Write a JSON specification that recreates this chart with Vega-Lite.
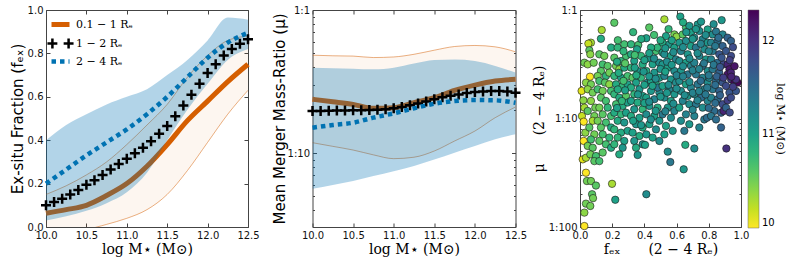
{
  "$schema": "https://vega.github.io/schema/vega-lite/v6.json",
  "padding": {"left": 9, "top": 4, "right": 0, "bottom": 0},
  "bounds": "flush",
  "spacing": 64.5,
  "datasets": {
    "l1": [
      {"x": 10.0, "s": "0.1 − 1 Rₑ", "y": 0.063}, {"x": 10.25, "s": "0.1 − 1 Rₑ", "y": 0.08}, {"x": 10.5, "s": "0.1 − 1 Rₑ", "y": 0.10}, {"x": 10.75, "s": "0.1 − 1 Rₑ", "y": 0.145}, {"x": 11.0, "s": "0.1 − 1 Rₑ", "y": 0.20}, {"x": 11.25, "s": "0.1 − 1 Rₑ", "y": 0.28}, {"x": 11.5, "s": "0.1 − 1 Rₑ", "y": 0.38}, {"x": 11.75, "s": "0.1 − 1 Rₑ", "y": 0.49}, {"x": 12.0, "s": "0.1 − 1 Rₑ", "y": 0.58}, {"x": 12.25, "s": "0.1 − 1 Rₑ", "y": 0.67}, {"x": 12.5, "s": "0.1 − 1 Rₑ", "y": 0.75},
      {"x": 10.0, "s": "2 − 4 Rₑ", "y": 0.20}, {"x": 10.25, "s": "2 − 4 Rₑ", "y": 0.265}, {"x": 10.5, "s": "2 − 4 Rₑ", "y": 0.33}, {"x": 10.75, "s": "2 − 4 Rₑ", "y": 0.39}, {"x": 11.0, "s": "2 − 4 Rₑ", "y": 0.45}, {"x": 11.25, "s": "2 − 4 Rₑ", "y": 0.52}, {"x": 11.5, "s": "2 − 4 Rₑ", "y": 0.60}, {"x": 11.75, "s": "2 − 4 Rₑ", "y": 0.69}, {"x": 12.0, "s": "2 − 4 Rₑ", "y": 0.78}, {"x": 12.25, "s": "2 − 4 Rₑ", "y": 0.85}, {"x": 12.5, "s": "2 − 4 Rₑ", "y": 0.895}
    ],
    "k1": [
      {"x": 10.0, "y": 0.10}, {"x": 10.1, "y": 0.115}, {"x": 10.2, "y": 0.13}, {"x": 10.3, "y": 0.15}, {"x": 10.4, "y": 0.17}, {"x": 10.5, "y": 0.195}, {"x": 10.6, "y": 0.215}, {"x": 10.7, "y": 0.24}, {"x": 10.8, "y": 0.265}, {"x": 10.9, "y": 0.29}, {"x": 11.0, "y": 0.315}, {"x": 11.1, "y": 0.34}, {"x": 11.2, "y": 0.365}, {"x": 11.3, "y": 0.395}, {"x": 11.4, "y": 0.43}, {"x": 11.5, "y": 0.465}, {"x": 11.6, "y": 0.51}, {"x": 11.7, "y": 0.56}, {"x": 11.8, "y": 0.61}, {"x": 11.9, "y": 0.66}, {"x": 12.0, "y": 0.71}, {"x": 12.1, "y": 0.75}, {"x": 12.2, "y": 0.79}, {"x": 12.3, "y": 0.82}, {"x": 12.4, "y": 0.845}, {"x": 12.5, "y": 0.865}
    ],
    "b1": [
      {"x": 10.0, "olo": -0.10, "ohi": 0.15, "blo": 0.03, "bhi": 0.40},
      {"x": 10.25, "olo": -0.06, "ohi": 0.19, "blo": 0.05, "bhi": 0.47},
      {"x": 10.5, "olo": -0.015, "ohi": 0.24, "blo": 0.075, "bhi": 0.52},
      {"x": 10.75, "olo": 0.012, "ohi": 0.30, "blo": 0.11, "bhi": 0.565},
      {"x": 11.0, "olo": 0.04, "ohi": 0.38, "blo": 0.16, "bhi": 0.60},
      {"x": 11.25, "olo": 0.08, "ohi": 0.47, "blo": 0.25, "bhi": 0.635},
      {"x": 11.5, "olo": 0.15, "ohi": 0.565, "blo": 0.40, "bhi": 0.70},
      {"x": 11.75, "olo": 0.26, "ohi": 0.69, "blo": 0.54, "bhi": 0.77},
      {"x": 12.0, "olo": 0.39, "ohi": 0.79, "blo": 0.66, "bhi": 0.86},
      {"x": 12.25, "olo": 0.52, "ohi": 0.86, "blo": 0.77, "bhi": 0.965},
      {"x": 12.5, "olo": 0.63, "ohi": 0.88, "blo": 0.82, "bhi": 0.955}
    ],
    "l2": [
      {"x": 10.0, "s": "o", "n": 4.21}, {"x": 10.25, "s": "o", "n": 4.38}, {"x": 10.5, "s": "o", "n": 4.57}, {"x": 10.75, "s": "o", "n": 4.87}, {"x": 11.0, "s": "o", "n": 4.82}, {"x": 11.25, "s": "o", "n": 4.45}, {"x": 11.5, "s": "o", "n": 4.10}, {"x": 11.75, "s": "o", "n": 3.65}, {"x": 12.0, "s": "o", "n": 3.35}, {"x": 12.25, "s": "o", "n": 3.14}, {"x": 12.5, "s": "o", "n": 3.05},
      {"x": 10.0, "s": "b", "n": 6.65}, {"x": 10.25, "s": "b", "n": 6.37}, {"x": 10.5, "s": "b", "n": 6.14}, {"x": 10.75, "s": "b", "n": 5.66}, {"x": 11.0, "s": "b", "n": 5.28}, {"x": 11.25, "s": "b", "n": 4.87}, {"x": 11.5, "s": "b", "n": 4.52}, {"x": 11.75, "s": "b", "n": 4.33}, {"x": 12.0, "s": "b", "n": 4.26}, {"x": 12.25, "s": "b", "n": 4.28}, {"x": 12.5, "s": "b", "n": 4.45}
    ],
    "k2": [
      {"x": 10.0, "n": 5.09}, {"x": 10.1, "n": 5.08}, {"x": 10.2, "n": 5.06}, {"x": 10.3, "n": 5.05}, {"x": 10.4, "n": 5.04}, {"x": 10.5, "n": 5.03}, {"x": 10.6, "n": 5.02}, {"x": 10.7, "n": 5.01}, {"x": 10.8, "n": 4.99}, {"x": 10.9, "n": 4.94}, {"x": 11.0, "n": 4.87}, {"x": 11.1, "n": 4.76}, {"x": 11.2, "n": 4.63}, {"x": 11.3, "n": 4.50}, {"x": 11.4, "n": 4.36}, {"x": 11.5, "n": 4.21}, {"x": 11.6, "n": 4.08}, {"x": 11.7, "n": 3.98}, {"x": 11.8, "n": 3.89}, {"x": 11.9, "n": 3.81}, {"x": 12.0, "n": 3.75}, {"x": 12.1, "n": 3.71}, {"x": 12.2, "n": 3.69}, {"x": 12.3, "n": 3.69}, {"x": 12.4, "n": 3.72}, {"x": 12.5, "n": 3.79}
    ],
    "b2": [
      {"x": 10.0, "olo": 8.47, "ohi": 2.07, "blo": 17.8, "bhi": 2.53},
      {"x": 10.25, "olo": 8.98, "ohi": 2.09, "blo": 16.7, "bhi": 2.55},
      {"x": 10.5, "olo": 9.53, "ohi": 2.10, "blo": 15.7, "bhi": 2.57},
      {"x": 10.75, "olo": 10.3, "ohi": 2.15, "blo": 14.5, "bhi": 2.60},
      {"x": 11.0, "olo": 10.95, "ohi": 2.13, "blo": 13.4, "bhi": 2.53},
      {"x": 11.25, "olo": 10.7, "ohi": 2.04, "blo": 12.3, "bhi": 2.37},
      {"x": 11.5, "olo": 9.68, "ohi": 1.91, "blo": 11.1, "bhi": 2.24},
      {"x": 11.75, "olo": 8.24, "ohi": 1.80, "blo": 9.95, "bhi": 2.22},
      {"x": 12.0, "olo": 7.02, "ohi": 1.77, "blo": 8.93, "bhi": 2.27},
      {"x": 12.25, "olo": 5.66, "ohi": 1.81, "blo": 8.02, "bhi": 2.46},
      {"x": 12.5, "olo": 4.77, "ohi": 1.96, "blo": 7.40, "bhi": 2.74}
    ],
    "sc": [
      {"f":0.010,"n":5.57,"c":10.1},{"f":0.021,"n":6.80,"c":10.4},{"f":0.027,"n":7.94,"c":10.3},{"f":0.012,"n":9.49,"c":10.2},{"f":0.023,"n":10.7,"c":10.0},{"f":0.033,"n":13.5,"c":10.4},{"f":0.023,"n":16.1,"c":10.0},{"f":0.048,"n":17.9,"c":10.5},{"f":0.017,"n":23.8,"c":10.1},{"f":0.037,"n":23.0,"c":10.3},{"f":0.037,"n":31.6,"c":10.0},{"f":0.043,"n":37.7,"c":10.5},{"f":0.068,"n":37.7,"c":10.5},{"f":0.099,"n":41.5,"c":10.6},{"f":0.075,"n":49.9,"c":10.6},{"f":0.081,"n":54.2,"c":10.5},{"f":0.037,"n":60.9,"c":10.5},{"f":0.027,"n":73.7,"c":10.4},{"f":0.064,"n":64.0,"c":10.5},{"f":0.027,"n":98,"c":10.0},{"f":0.068,"n":2.0,"c":10.3},{"f":0.052,"n":2.04,"c":10.2},{"f":0.058,"n":2.35,"c":10.6},{"f":0.064,"n":2.56,"c":10.4},{"f":0.027,"n":3.06,"c":10.5},{"f":0.048,"n":3.17,"c":10.4},{"f":0.085,"n":3.06,"c":10.5},{"f":0.062,"n":4.12,"c":10.0},{"f":0.037,"n":4.67,"c":10.4},{"f":0.068,"n":4.84,"c":10.5},{"f":0.048,"n":5.38,"c":10.4},{"f":0.079,"n":5.77,"c":10.5},{"f":0.068,"n":6.89,"c":10.4},{"f":0.095,"n":7.94,"c":10.5},{"f":0.048,"n":8.53,"c":10.6},{"f":0.089,"n":9.49,"c":10.5},{"f":0.079,"n":10.5,"c":10.3},{"f":0.058,"n":12.1,"c":10.6},{"f":0.089,"n":14.0,"c":10.5},{"f":0.068,"n":15.6,"c":10.7},{"f":0.079,"n":18.6,"c":10.6},{"f":0.064,"n":21.4,"c":10.5},{"f":0.099,"n":22.2,"c":10.7},{"f":0.089,"n":24.7,"c":10.6},{"f":0.120,"n":24.7,"c":10.7},
      {"f":0.135,"n":1.53,"c":10.3},{"f":0.130,"n":1.84,"c":10.9},{"f":0.120,"n":2.56,"c":10.6},{"f":0.151,"n":2.65,"c":10.5},{"f":0.141,"n":3.17,"c":10.7},{"f":0.172,"n":3.28,"c":10.6},{"f":0.130,"n":3.65,"c":10.6},{"f":0.110,"n":4.06,"c":10.5},{"f":0.161,"n":4.06,"c":10.8},{"f":0.182,"n":3.78,"c":10.5},{"f":0.120,"n":4.51,"c":10.7},{"f":0.155,"n":4.67,"c":10.6},{"f":0.182,"n":4.84,"c":10.4},{"f":0.110,"n":5.38,"c":10.7},{"f":0.141,"n":5.57,"c":10.5},{"f":0.193,"n":5.57,"c":10.7},{"f":0.130,"n":6.42,"c":10.6},{"f":0.161,"n":6.89,"c":10.7},{"f":0.120,"n":7.94,"c":10.5},{"f":0.172,"n":7.94,"c":10.8},{"f":0.141,"n":9.16,"c":10.6},{"f":0.193,"n":9.49,"c":10.7},{"f":0.110,"n":10.5,"c":10.5},{"f":0.161,"n":10.9,"c":10.7},{"f":0.130,"n":12.1,"c":10.6},{"f":0.193,"n":12.1,"c":10.9},{"f":0.141,"n":14.0,"c":10.7},{"f":0.182,"n":15.0,"c":10.8},{"f":0.120,"n":16.1,"c":10.6},{"f":0.161,"n":17.3,"c":10.7},{"f":0.193,"n":18.6,"c":10.9},{"f":0.141,"n":20.6,"c":10.6},{"f":0.199,"n":40.0,"c":10.3},{"f":0.219,"n":56.1,"c":11.0},
      {"f":0.213,"n":1.31,"c":10.6},{"f":0.193,"n":2.22,"c":10.9},{"f":0.234,"n":2.22,"c":10.8},{"f":0.275,"n":2.07,"c":10.7},{"f":0.213,"n":2.75,"c":10.6},{"f":0.255,"n":2.95,"c":10.8},{"f":0.286,"n":2.65,"c":10.7},{"f":0.224,"n":3.28,"c":10.5},{"f":0.244,"n":3.52,"c":10.4},{"f":0.275,"n":3.40,"c":10.9},{"f":0.213,"n":4.06,"c":10.8},{"f":0.255,"n":4.21,"c":11.0},{"f":0.296,"n":4.06,"c":10.7},{"f":0.224,"n":4.84,"c":10.9},{"f":0.265,"n":5.01,"c":10.8},{"f":0.296,"n":4.84,"c":11.0},{"f":0.213,"n":5.98,"c":10.8},{"f":0.244,"n":6.42,"c":10.9},{"f":0.286,"n":6.20,"c":10.6},{"f":0.224,"n":7.39,"c":10.7},{"f":0.265,"n":7.66,"c":10.9},{"f":0.296,"n":7.13,"c":11.0},{"f":0.213,"n":8.84,"c":10.9},{"f":0.255,"n":9.16,"c":10.8},{"f":0.286,"n":8.84,"c":11.0},{"f":0.234,"n":10.5,"c":10.9},{"f":0.275,"n":10.9,"c":11.1},{"f":0.213,"n":12.6,"c":10.8},{"f":0.255,"n":13.5,"c":10.9},{"f":0.296,"n":13.0,"c":11.0},{"f":0.234,"n":15.0,"c":10.8},{"f":0.275,"n":16.1,"c":11.0},{"f":0.213,"n":17.3,"c":10.8},{"f":0.265,"n":18.6,"c":11.1},{"f":0.244,"n":21.4,"c":10.9},
      {"f":0.317,"n":2.07,"c":10.8},{"f":0.362,"n":2.10,"c":10.7},{"f":0.354,"n":2.30,"c":11.0},{"f":0.317,"n":2.56,"c":10.9},{"f":0.379,"n":2.65,"c":10.8},{"f":0.337,"n":2.95,"c":11.0},{"f":0.389,"n":3.17,"c":10.9},{"f":0.317,"n":3.40,"c":10.8},{"f":0.358,"n":3.65,"c":11.1},{"f":0.327,"n":4.21,"c":10.6},{"f":0.379,"n":4.21,"c":10.8},{"f":0.348,"n":4.67,"c":11.0},{"f":0.317,"n":5.19,"c":10.9},{"f":0.369,"n":5.38,"c":11.1},{"f":0.337,"n":5.98,"c":10.8},{"f":0.389,"n":6.20,"c":11.0},{"f":0.317,"n":6.89,"c":11.0},{"f":0.358,"n":7.13,"c":10.9},{"f":0.337,"n":8.23,"c":11.1},{"f":0.389,"n":8.23,"c":10.8},{"f":0.317,"n":9.49,"c":10.9},{"f":0.369,"n":9.84,"c":11.0},{"f":0.348,"n":11.3,"c":11.1},{"f":0.389,"n":12.1,"c":10.9},{"f":0.327,"n":13.5,"c":11.0},{"f":0.369,"n":14.5,"c":10.9},{"f":0.337,"n":16.1,"c":11.1},{"f":0.389,"n":17.3,"c":11.2},{"f":0.348,"n":18.6,"c":10.9},{"f":0.358,"n":21.7,"c":11.1},{"f":0.404,"n":17.5,"c":11.0},
      {"f":0.412,"n":1.82,"c":11.0},{"f":0.420,"n":2.79,"c":11.1},{"f":0.472,"n":2.39,"c":10.7},{"f":0.482,"n":2.22,"c":10.8},{"f":0.441,"n":2.22,"c":10.9},{"f":0.513,"n":2.47,"c":11.0},{"f":0.451,"n":3.17,"c":11.0},{"f":0.493,"n":3.06,"c":11.2},{"f":0.412,"n":3.65,"c":10.9},{"f":0.462,"n":3.78,"c":11.1},{"f":0.493,"n":4.21,"c":11.0},{"f":0.420,"n":4.67,"c":11.2},{"f":0.472,"n":4.84,"c":10.9},{"f":0.441,"n":5.57,"c":11.1},{"f":0.493,"n":5.77,"c":11.2},{"f":0.412,"n":6.42,"c":11.0},{"f":0.462,"n":6.65,"c":11.3},{"f":0.431,"n":7.66,"c":11.1},{"f":0.482,"n":7.94,"c":10.9},{"f":0.412,"n":9.16,"c":11.2},{"f":0.462,"n":9.49,"c":11.0},{"f":0.493,"n":10.5,"c":11.1},{"f":0.431,"n":11.3,"c":11.0},{"f":0.472,"n":12.6,"c":11.2},{"f":0.412,"n":14.0,"c":11.1},{"f":0.451,"n":15.0,"c":11.0},{"f":0.493,"n":16.1,"c":11.2},{"f":0.412,"n":49.9,"c":11.2},{"f":0.441,"n":4.51,"c":11.0},{"f":0.482,"n":5.19,"c":11.4},
      {"f":0.524,"n":1.22,"c":10.3},{"f":0.534,"n":1.74,"c":11.0},{"f":0.586,"n":1.68,"c":10.5},{"f":0.600,"n":1.76,"c":10.4},{"f":0.513,"n":2.0,"c":10.9},{"f":0.555,"n":2.07,"c":11.1},{"f":0.586,"n":2.22,"c":11.0},{"f":0.524,"n":2.56,"c":11.2},{"f":0.565,"n":2.65,"c":11.0},{"f":0.596,"n":2.85,"c":11.3},{"f":0.513,"n":3.17,"c":11.1},{"f":0.545,"n":3.40,"c":11.0},{"f":0.586,"n":3.65,"c":11.2},{"f":0.524,"n":4.06,"c":11.3},{"f":0.565,"n":4.36,"c":11.1},{"f":0.596,"n":4.67,"c":11.2},{"f":0.513,"n":5.01,"c":11.0},{"f":0.555,"n":5.38,"c":11.3},{"f":0.586,"n":5.98,"c":11.1},{"f":0.524,"n":6.42,"c":11.2},{"f":0.565,"n":6.89,"c":11.0},{"f":0.545,"n":7.94,"c":11.1},{"f":0.586,"n":8.53,"c":11.3},{"f":0.513,"n":9.16,"c":11.4},{"f":0.565,"n":9.84,"c":11.2},{"f":0.534,"n":11.7,"c":11.0},{"f":0.576,"n":13.0,"c":11.1},{"f":0.545,"n":20.2,"c":11.2},{"f":0.561,"n":25.2,"c":11.4},{"f":0.524,"n":14.0,"c":11.0},
      {"f":0.623,"n":1.15,"c":11.0},{"f":0.658,"n":1.45,"c":10.7},{"f":0.638,"n":1.68,"c":10.6},{"f":0.679,"n":1.40,"c":11.1},{"f":0.689,"n":1.62,"c":11.0},{"f":0.617,"n":2.0,"c":11.1},{"f":0.658,"n":1.93,"c":11.2},{"f":0.689,"n":2.15,"c":11.0},{"f":0.627,"n":2.39,"c":11.3},{"f":0.669,"n":2.56,"c":11.1},{"f":0.617,"n":2.95,"c":11.2},{"f":0.658,"n":3.06,"c":11.0},{"f":0.689,"n":3.28,"c":11.3},{"f":0.627,"n":3.65,"c":11.1},{"f":0.669,"n":3.92,"c":11.4},{"f":0.617,"n":4.51,"c":11.2},{"f":0.658,"n":4.84,"c":11.0},{"f":0.689,"n":5.19,"c":11.3},{"f":0.627,"n":5.57,"c":11.2},{"f":0.669,"n":6.20,"c":11.1},{"f":0.638,"n":6.89,"c":11.3},{"f":0.679,"n":7.39,"c":11.2},{"f":0.617,"n":7.94,"c":11.0},{"f":0.658,"n":9.16,"c":11.3},{"f":0.627,"n":10.5,"c":11.2},{"f":0.679,"n":11.3,"c":11.1},{"f":0.648,"n":13.0,"c":11.4},{"f":0.654,"n":17.5,"c":10.9},{"f":0.644,"n":29.4,"c":11.1},
      {"f":0.731,"n":1.36,"c":11.1},{"f":0.752,"n":1.28,"c":11.1},{"f":0.741,"n":1.56,"c":11.2},{"f":0.793,"n":1.51,"c":11.0},{"f":0.710,"n":1.80,"c":11.2},{"f":0.762,"n":1.86,"c":11.3},{"f":0.793,"n":2.0,"c":11.1},{"f":0.720,"n":2.22,"c":11.4},{"f":0.772,"n":2.30,"c":11.2},{"f":0.741,"n":2.65,"c":11.3},{"f":0.783,"n":2.85,"c":11.1},{"f":0.710,"n":3.06,"c":11.3},{"f":0.762,"n":3.28,"c":11.5},{"f":0.793,"n":3.65,"c":11.2},{"f":0.720,"n":3.92,"c":11.4},{"f":0.762,"n":4.21,"c":11.3},{"f":0.793,"n":4.67,"c":11.2},{"f":0.731,"n":4.84,"c":11.4},{"f":0.772,"n":5.38,"c":11.3},{"f":0.710,"n":5.98,"c":11.2},{"f":0.752,"n":6.42,"c":11.5},{"f":0.793,"n":6.89,"c":11.3},{"f":0.720,"n":7.39,"c":11.4},{"f":0.762,"n":7.94,"c":11.2},{"f":0.710,"n":9.49,"c":11.3},{"f":0.772,"n":10.2,"c":11.4},{"f":0.741,"n":12.1,"c":11.3},{"f":0.710,"n":18.9,"c":11.2},{"f":0.789,"n":9.84,"c":11.5},
      {"f":0.824,"n":1.68,"c":11.2},{"f":0.845,"n":1.58,"c":11.4},{"f":0.880,"n":1.24,"c":11.1},{"f":0.886,"n":1.68,"c":11.3},{"f":0.814,"n":2.0,"c":11.3},{"f":0.855,"n":1.93,"c":11.5},{"f":0.886,"n":2.15,"c":11.6},{"f":0.824,"n":2.39,"c":11.4},{"f":0.865,"n":2.56,"c":11.7},{"f":0.814,"n":2.85,"c":11.3},{"f":0.855,"n":3.06,"c":11.5},{"f":0.892,"n":3.17,"c":11.8},{"f":0.824,"n":3.52,"c":11.4},{"f":0.865,"n":3.78,"c":11.6},{"f":0.803,"n":4.21,"c":11.3},{"f":0.845,"n":4.51,"c":11.5},{"f":0.886,"n":4.67,"c":11.7},{"f":0.824,"n":5.38,"c":11.4},{"f":0.865,"n":5.57,"c":11.6},{"f":0.814,"n":6.42,"c":11.3},{"f":0.855,"n":6.65,"c":11.5},{"f":0.886,"n":7.39,"c":11.8},{"f":0.834,"n":8.53,"c":11.5},{"f":0.876,"n":8.84,"c":11.6},{"f":0.814,"n":9.49,"c":11.4},{"f":0.845,"n":10.2,"c":11.5},{"f":0.876,"n":12.1,"c":11.6},{"f":0.892,"n":8.53,"c":12.1},
      {"f":0.917,"n":1.80,"c":11.6},{"f":0.938,"n":1.93,"c":11.6},{"f":0.907,"n":2.39,"c":11.7},{"f":0.938,"n":2.65,"c":11.8},{"f":0.917,"n":3.17,"c":12.1},{"f":0.928,"n":3.52,"c":12.2},{"f":0.917,"n":3.92,"c":12.2},{"f":0.938,"n":3.78,"c":12.1},{"f":0.938,"n":4.36,"c":11.9},{"f":0.959,"n":4.67,"c":12.3},{"f":0.979,"n":4.67,"c":12.3},{"f":0.969,"n":4.36,"c":12.0},{"f":0.907,"n":5.01,"c":11.8},{"f":0.928,"n":5.77,"c":11.7},{"f":0.917,"n":6.80,"c":11.9},{"f":0.938,"n":6.42,"c":11.8},{"f":0.907,"n":7.94,"c":11.6},{"f":0.909,"n":18.9,"c":12.0},{"f":0.969,"n":5.57,"c":11.7},{"f":0.940,"n":4.12,"c":12.1},
      {"f":0.235,"n":1.9,"c":10.7},{"f":0.27,"n":2.4,"c":10.8},{"f":0.23,"n":3.0,"c":10.9},{"f":0.28,"n":3.1,"c":10.6},{"f":0.24,"n":3.8,"c":10.9},{"f":0.27,"n":4.5,"c":10.7},{"f":0.235,"n":5.4,"c":10.9},{"f":0.28,"n":5.5,"c":11.0},{"f":0.26,"n":6.9,"c":10.8},{"f":0.23,"n":8.0,"c":11.0},
      {"f":0.33,"n":1.6,"c":10.8},{"f":0.38,"n":1.85,"c":10.9},{"f":0.34,"n":2.6,"c":10.7},{"f":0.40,"n":2.9,"c":11.0},{"f":0.34,"n":3.4,"c":11.0},{"f":0.395,"n":3.7,"c":11.1},{"f":0.35,"n":4.0,"c":10.9},{"f":0.40,"n":4.9,"c":11.0},{"f":0.36,"n":6.0,"c":11.1},{"f":0.40,"n":7.2,"c":11.0},{"f":0.33,"n":10.5,"c":11.0},{"f":0.38,"n":11.5,"c":11.1},
      {"f":0.43,"n":1.45,"c":10.6},{"f":0.46,"n":1.7,"c":10.7},{"f":0.50,"n":1.9,"c":10.9},{"f":0.43,"n":2.5,"c":11.0},{"f":0.46,"n":2.8,"c":11.2},{"f":0.50,"n":3.5,"c":11.1},{"f":0.43,"n":4.1,"c":11.1},{"f":0.47,"n":4.3,"c":11.2},{"f":0.45,"n":5.0,"c":11.0},{"f":0.50,"n":6.3,"c":11.1},{"f":0.43,"n":7.0,"c":11.2},{"f":0.47,"n":8.5,"c":11.1},{"f":0.44,"n":10.2,"c":11.2},
      {"f":0.55,"n":1.5,"c":10.8},{"f":0.57,"n":1.9,"c":11.0},{"f":0.53,"n":2.25,"c":11.1},{"f":0.58,"n":2.45,"c":11.2},{"f":0.54,"n":3.0,"c":11.2},{"f":0.57,"n":3.2,"c":11.1},{"f":0.53,"n":3.7,"c":11.0},{"f":0.60,"n":4.0,"c":11.3},{"f":0.55,"n":4.9,"c":11.2},{"f":0.60,"n":5.3,"c":11.2},{"f":0.54,"n":5.8,"c":11.1},{"f":0.58,"n":7.3,"c":11.2},{"f":0.53,"n":8.6,"c":11.3},
      {"f":0.64,"n":1.3,"c":10.9},{"f":0.66,"n":1.6,"c":11.1},{"f":0.70,"n":1.85,"c":11.1},{"f":0.64,"n":2.2,"c":11.2},{"f":0.68,"n":2.8,"c":11.2},{"f":0.64,"n":3.3,"c":11.2},{"f":0.70,"n":3.6,"c":11.3},{"f":0.64,"n":4.1,"c":11.3},{"f":0.68,"n":4.6,"c":11.2},{"f":0.70,"n":5.8,"c":11.3},{"f":0.65,"n":6.1,"c":11.2},{"f":0.70,"n":8.3,"c":11.3},
      {"f":0.72,"n":1.5,"c":11.1},{"f":0.78,"n":1.7,"c":11.2},{"f":0.75,"n":2.05,"c":11.3},{"f":0.80,"n":2.4,"c":11.3},{"f":0.73,"n":2.5,"c":11.2},{"f":0.77,"n":3.1,"c":11.4},{"f":0.74,"n":3.5,"c":11.3},{"f":0.80,"n":4.0,"c":11.4},{"f":0.75,"n":4.5,"c":11.5},{"f":0.79,"n":5.2,"c":11.4},{"f":0.74,"n":5.6,"c":11.3},{"f":0.78,"n":6.0,"c":11.4},{"f":0.73,"n":6.8,"c":11.3},{"f":0.80,"n":8.0,"c":11.5},
      {"f":0.83,"n":1.35,"c":11.2},{"f":0.86,"n":1.8,"c":11.5},{"f":0.84,"n":2.15,"c":11.4},{"f":0.88,"n":2.75,"c":11.7},{"f":0.83,"n":3.2,"c":11.4},{"f":0.87,"n":3.35,"c":11.7},{"f":0.85,"n":4.1,"c":11.6},{"f":0.89,"n":4.2,"c":11.9},{"f":0.84,"n":4.9,"c":11.5},{"f":0.87,"n":6.1,"c":11.6},{"f":0.84,"n":7.2,"c":11.5},
      {"f":0.95,"n":2.2,"c":11.8},{"f":0.93,"n":2.9,"c":11.9},{"f":0.96,"n":3.3,"c":12.2},{"f":0.95,"n":5.1,"c":11.9},{"f":0.93,"n":8.8,"c":11.8}
    ]
  },
  "hconcat": [
    {
      "width": 202, "height": 217,
      "resolve": {"axis": {"x": "independent", "y": "independent"}},
      "layer": [
        {
          "data": {"name": "b1"},
          "mark": {"type": "area", "interpolate": "monotone", "color": "#D55E00", "opacity": 0.06, "clip": true},
          "encoding": {
            "x": {"field": "x", "type": "quantitative", "scale": {"domain": [10, 12.5], "nice": false},
              "axis": {"values": [10, 10.5, 11, 11.5, 12, 12.5], "format": ".1f", "title": "log M⋆ (M⊙)", "titleFont": "DejaVu Serif", "titleFontSize": 14, "titlePadding": 2}},
            "y": {"field": "olo", "type": "quantitative", "scale": {"domain": [0, 1], "nice": false},
              "axis": {"values": [0, 0.2, 0.4, 0.6, 0.8, 1.0], "format": ".1f", "title": "Ex-situ Fraction (fₑₓ)", "titleFont": "DejaVu Sans", "titleFontSize": 15, "titlePadding": 2}},
            "y2": {"field": "ohi"}
          }
        },
        {
          "data": {"name": "b1"},
          "mark": {"type": "line", "interpolate": "monotone", "color": "#D55E00", "strokeWidth": 0.7, "opacity": 0.7, "clip": true},
          "encoding": {
            "x": {"field": "x", "type": "quantitative", "axis": {"orient": "top", "labels": false, "title": null, "values": [10, 10.5, 11, 11.5, 12, 12.5]}},
            "y": {"field": "olo", "type": "quantitative", "axis": {"orient": "right", "labels": false, "title": null, "values": [0, 0.2, 0.4, 0.6, 0.8, 1.0]}}
          }
        },
        {
          "data": {"name": "b1"},
          "mark": {"type": "line", "interpolate": "monotone", "color": "#D55E00", "strokeWidth": 0.7, "opacity": 0.7, "clip": true},
          "encoding": {"x": {"field": "x", "type": "quantitative", "axis": null}, "y": {"field": "ohi", "type": "quantitative", "axis": null}}
        },
        {
          "data": {"name": "l1"},
          "transform": [{"filter": "datum.s == '0.1 − 1 Rₑ'"}],
          "mark": {"type": "line", "interpolate": "monotone", "strokeWidth": 5},
          "encoding": {
            "x": {"field": "x", "type": "quantitative", "axis": null},
            "y": {"field": "y", "type": "quantitative", "axis": null},
            "color": {"field": "s", "type": "nominal",
              "scale": {"domain": ["0.1 − 1 Rₑ", "1 − 2 Rₑ", "2 − 4 Rₑ"], "range": ["#D55E00", "#000000", "#0072B2"]},
              "legend": {
                "title": null, "orient": "top-left", "offset": 9, "padding": 0,
                "symbolType": "stroke", "symbolSize": 324, "symbolStrokeWidth": 5,
                "labelFont": "DejaVu Serif", "labelFontSize": 11, "labelOffset": 10, "rowPadding": -2,
                "encode": {"symbols": {"update": {
                  "shape": {"signal": "datum.index == 1 ? 'M-1.45,0H-0.35M-0.9,-0.55V0.55M0.35,0H1.45M0.9,-0.55V0.55' : 'stroke'"},
                  "strokeDash": {"signal": "datum.index == 2 ? [4.5,4] : [1,0]"},
                  "strokeWidth": {"signal": "datum.index == 2 ? 4.5 : (datum.index == 1 ? 2.5 : 5)"}
                }}}
              }
            }
          }
        },
        {
          "data": {"name": "b1"},
          "mark": {"type": "area", "interpolate": "monotone", "color": "#0072B2", "opacity": 0.3, "clip": true},
          "encoding": {"x": {"field": "x", "type": "quantitative", "axis": null}, "y": {"field": "blo", "type": "quantitative", "axis": null}, "y2": {"field": "bhi"}}
        },
        {
          "data": {"name": "k1"},
          "mark": {"type": "point", "shape": "M-1,0H1M0,-1V1", "size": 100, "strokeWidth": 2.5, "color": "#000000", "filled": false, "opacity": 1},
          "encoding": {"x": {"field": "x", "type": "quantitative", "axis": null}, "y": {"field": "y", "type": "quantitative", "axis": null}}
        },
        {
          "data": {"name": "l1"},
          "transform": [{"filter": "datum.s == '2 − 4 Rₑ'"}],
          "mark": {"type": "line", "interpolate": "monotone", "strokeWidth": 4.5, "color": "#0072B2", "strokeDash": [4.5, 4]},
          "encoding": {"x": {"field": "x", "type": "quantitative", "axis": null}, "y": {"field": "y", "type": "quantitative", "axis": null}}
        }
      ]
    },
    {
      "width": 203, "height": 217,
      "resolve": {"axis": {"x": "independent", "y": "independent"}},
      "layer": [
        {
          "data": {"name": "b2"},
          "mark": {"type": "area", "interpolate": "monotone", "color": "#D55E00", "opacity": 0.06, "clip": true},
          "encoding": {
            "x": {"field": "x", "type": "quantitative", "scale": {"domain": [10, 12.5], "nice": false},
              "axis": {"values": [10, 10.5, 11, 11.5, 12, 12.5], "format": ".1f", "title": "log M⋆ (M⊙)", "titleFont": "DejaVu Serif", "titleFontSize": 14, "titlePadding": 2}},
            "y": {"field": "olo", "type": "quantitative", "scale": {"type": "log", "domain": [1, 32.9], "reverse": true, "nice": false},
              "axis": {"values": [1, 1.111, 1.25, 1.4286, 1.6667, 2, 2.5, 3.333, 5, 10, 11.11, 12.5, 14.286, 16.667, 20, 25],
                "labelExpr": "datum.value == 1 || datum.value == 10 ? '1:' + datum.value : ''",
                "tickSize": {"condition": {"test": "datum.value == 1 || datum.value == 10", "value": -4}, "value": -2},
                "title": "Mean Merger Mass-Ratio (μ)", "titleFont": "DejaVu Sans", "titleFontSize": 15, "titlePadding": 0}},
            "y2": {"field": "ohi"}
          }
        },
        {
          "data": {"name": "b2"},
          "mark": {"type": "line", "interpolate": "monotone", "color": "#D55E00", "strokeWidth": 0.7, "opacity": 0.7, "clip": true},
          "encoding": {
            "x": {"field": "x", "type": "quantitative", "axis": {"orient": "top", "labels": false, "title": null, "values": [10, 10.5, 11, 11.5, 12, 12.5]}},
            "y": {"field": "olo", "type": "quantitative", "axis": {"orient": "right", "labels": false, "title": null,
              "values": [1, 1.111, 1.25, 1.4286, 1.6667, 2, 2.5, 3.333, 5, 10, 11.11, 12.5, 14.286, 16.667, 20, 25],
              "tickSize": {"condition": {"test": "datum.value == 1 || datum.value == 10", "value": -4}, "value": -2}}}
          }
        },
        {
          "data": {"name": "b2"},
          "mark": {"type": "line", "interpolate": "monotone", "color": "#D55E00", "strokeWidth": 0.7, "opacity": 0.7, "clip": true},
          "encoding": {"x": {"field": "x", "type": "quantitative", "axis": null}, "y": {"field": "ohi", "type": "quantitative", "axis": null}}
        },
        {
          "data": {"name": "l2"},
          "transform": [{"filter": "datum.s == 'o'"}],
          "mark": {"type": "line", "interpolate": "monotone", "strokeWidth": 5, "color": "#D55E00"},
          "encoding": {"x": {"field": "x", "type": "quantitative", "axis": null}, "y": {"field": "n", "type": "quantitative", "axis": null}}
        },
        {
          "data": {"name": "b2"},
          "mark": {"type": "area", "interpolate": "monotone", "color": "#0072B2", "opacity": 0.3, "clip": true},
          "encoding": {"x": {"field": "x", "type": "quantitative", "axis": null}, "y": {"field": "blo", "type": "quantitative", "axis": null}, "y2": {"field": "bhi"}}
        },
        {
          "data": {"name": "k2"},
          "mark": {"type": "point", "shape": "M-1,0H1M0,-1V1", "size": 100, "strokeWidth": 2.5, "color": "#000000", "filled": false, "opacity": 1},
          "encoding": {"x": {"field": "x", "type": "quantitative", "axis": null}, "y": {"field": "n", "type": "quantitative", "axis": null}}
        },
        {
          "data": {"name": "l2"},
          "transform": [{"filter": "datum.s == 'b'"}],
          "mark": {"type": "line", "interpolate": "monotone", "strokeWidth": 4.5, "color": "#0072B2", "strokeDash": [4.5, 4]},
          "encoding": {"x": {"field": "x", "type": "quantitative", "axis": null}, "y": {"field": "n", "type": "quantitative", "axis": null}}
        }
      ]
    },
    {
      "width": 161, "height": 217,
      "data": {"name": "sc"},
      "resolve": {"axis": {"x": "independent", "y": "independent"}},
      "layer": [
        {
          "mark": {"type": "circle", "size": 55, "opacity": 1, "stroke": "#1a1a1a", "strokeWidth": 0.6},
          "encoding": {
            "x": {"field": "f", "type": "quantitative", "scale": {"domain": [0, 1], "nice": false},
              "axis": {"values": [0, 0.2, 0.4, 0.6, 0.8, 1.0], "format": ".1f", "title": "fₑₓ\u2003\u2003(2 − 4 Rₑ)", "titleFont": "DejaVu Serif", "titleFontSize": 14, "titlePadding": 2}},
            "y": {"field": "n", "type": "quantitative", "scale": {"type": "log", "domain": [1, 100], "reverse": true, "nice": false},
              "axis": {"values": [1, 1.111, 1.25, 1.4286, 1.6667, 2, 2.5, 3.333, 5, 10, 11.11, 12.5, 14.286, 16.667, 20, 25, 33.33, 50, 100],
                "labelExpr": "datum.value == 1 || datum.value == 10 || datum.value == 100 ? '1:' + datum.value : ''",
                "tickSize": {"condition": {"test": "datum.value == 1 || datum.value == 10 || datum.value == 100", "value": -4}, "value": -2},
                "title": "μ\u2003\u2003(2 − 4 Rₑ)", "titleFont": "DejaVu Serif", "titleFontSize": 14, "titlePadding": 2}},
            "color": {"field": "c", "type": "quantitative",
              "scale": {"scheme": "viridis", "reverse": true, "domain": [10, 12.33], "nice": false},
              "legend": {"orient": "right", "offset": 6, "padding": 0, "gradientLength": 218, "gradientThickness": 11,
                "values": [10, 11, 12], "format": "d", "labelFontSize": 10, "labelFont": "DejaVu Sans", "labelOffset": 3,
                "title": "log M⋆ (M⊙)", "titleOrient": "right", "titleAngle": 270, "titleFont": "DejaVu Serif", "titleFontSize": 11, "titleFontWeight": "normal", "titlePadding": 0,
                "gradientStrokeColor": "#666", "gradientStrokeWidth": 0.5}
            }
          }
        },
        {
          "mark": {"type": "circle", "size": 1, "opacity": 0},
          "encoding": {
            "x": {"field": "f", "type": "quantitative", "axis": {"orient": "top", "labels": false, "title": null, "values": [0, 0.2, 0.4, 0.6, 0.8, 1.0]}},
            "y": {"field": "n", "type": "quantitative", "axis": {"orient": "right", "labels": false, "title": null,
              "values": [1, 1.111, 1.25, 1.4286, 1.6667, 2, 2.5, 3.333, 5, 10, 11.11, 12.5, 14.286, 16.667, 20, 25, 33.33, 50, 100],
              "tickSize": {"condition": {"test": "datum.value == 1 || datum.value == 10 || datum.value == 100", "value": -4}, "value": -2}}}
          }
        }
      ]
    }
  ],
  "config": {
    "view": {"stroke": "#444", "strokeWidth": 1},
    "axis": {"domain": false, "grid": false, "labelFont": "DejaVu Sans", "labelFontSize": 10, "labelColor": "#111", "tickColor": "#444", "tickSize": -4, "labelPadding": 7, "titleFontWeight": "normal", "titleColor": "#000", "labelFlush": false, "labelOverlap": false}
  }
}
